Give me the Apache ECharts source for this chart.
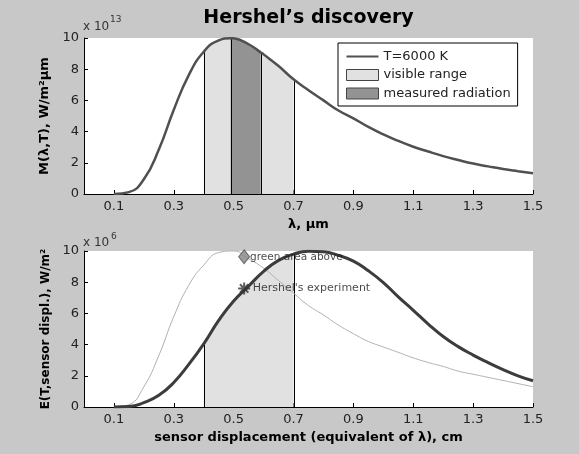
<!DOCTYPE html>
<html><head><meta charset="utf-8">
<script src="https://cdn.jsdelivr.net/npm/echarts@6/dist/echarts.min.js"></script>
<style>html,body{margin:0;padding:0;background:#c8c8c8}#c{width:579px;height:454px}</style>
</head><body><div id="c"></div>
<script>
// ---- data ----
const topX = [0.10,0.15,0.20,0.25,0.30,0.35,0.40,0.45,0.49,0.50,0.55,0.59,0.60,0.65,0.70,0.75,0.80,0.85,0.90,0.95,1.00,1.05,1.10,1.15,1.20,1.25,1.30,1.35,1.40,1.45,1.50];
const topY = [0.00,0.12,0.95,2.85,5.40,7.62,9.12,9.85,9.99,9.98,9.60,9.08,8.95,8.20,7.35,6.65,6.00,5.35,4.85,4.30,3.82,3.40,3.03,2.72,2.43,2.18,1.95,1.77,1.60,1.46,1.33];
const botX = [0.10,0.15,0.20,0.25,0.30,0.35,0.40,0.45,0.50,0.55,0.60,0.65,0.70,0.75,0.80,0.85,0.90,0.95,1.00,1.05,1.10,1.15,1.20,1.25,1.30,1.35,1.40,1.45,1.50];
const thinY = [0.00,0.15,1.30,3.30,5.80,7.80,9.10,9.90,10.0,9.50,8.90,8.10,7.30,6.50,5.90,5.25,4.70,4.20,3.85,3.50,3.15,2.85,2.60,2.30,2.10,1.90,1.70,1.50,1.30];
const thickY = [0.00,0.03,0.28,0.75,1.57,2.73,4.05,5.55,6.80,7.75,8.70,9.40,9.80,9.98,9.95,9.72,9.35,8.73,7.98,7.06,6.20,5.32,4.52,3.87,3.33,2.85,2.40,2.00,1.68];
const xTicks = [0.1,0.3,0.5,0.7,0.9,1.1,1.3,1.5];
const visibleRange = [0.4, 0.7];
const measuredRange = [0.49, 0.59];
const markerX = [0.535, 0.535];
const markerY = [9.63, 7.6];
const markerText = ['green area above', "Hershel's experiment"];
const legendNames = ['T=6000 K', 'visible range', 'measured radiation'];

// ---- helpers ----
const F = 'DejaVu Sans';
const pairs = (xs, ys) => xs.map((x, i) => [x, ys[i]]);
const subset = (xs, ys, a, b) => pairs(xs, ys).filter(p => p[0] >= a - 1e-9 && p[0] <= b + 1e-9);
const yAt = (xs, ys, x) => ys[xs.findIndex(v => Math.abs(v - x) < 1e-9)];
const SM = 0.5;

function xAxisCfg(gi, name) {
  return {
    type: 'value', gridIndex: gi, min: 0, max: 1.5,
    name: name, nameLocation: 'middle', nameGap: 24,
    nameTextStyle: { fontFamily: F, fontWeight: 'bold', fontSize: 13, color: '#000' },
    axisLine: { show: true, onZero: false, lineStyle: { color: '#000', width: 1 } },
    axisTick: { show: true, inside: true, length: 4, customValues: xTicks, lineStyle: { color: '#000' } },
    axisLabel: { customValues: xTicks, formatter: v => v.toFixed(1), margin: 6, fontFamily: F, fontSize: 13, color: '#222' },
    splitLine: { show: false }
  };
}
function yAxisCfg(gi, name, fs) {
  return {
    type: 'value', gridIndex: gi, min: 0, max: 10, interval: 2,
    name: name, nameLocation: 'middle', nameGap: 30, nameRotate: 90,
    nameTextStyle: { fontFamily: F, fontWeight: 'bold', fontSize: fs, color: '#000' },
    axisLine: { show: true, onZero: false, lineStyle: { color: '#000', width: 1 } },
    axisTick: { show: true, inside: true, length: 4, lineStyle: { color: '#000' } },
    axisLabel: { margin: 5, fontFamily: F, fontSize: 13, color: '#222' },
    splitLine: { show: false }
  };
}
function vlines(xi, xs, ys, edges) {
  return {
    type: 'custom', xAxisIndex: xi, yAxisIndex: xi, silent: true, z: 3,
    data: edges.map(x => [x, yAt(xs, ys, x)]),
    renderItem: (params, api) => {
      const p0 = api.coord([api.value(0), 0]);
      const p1 = api.coord([api.value(0), api.value(1)]);
      const px = Math.round(p0[0]) + 0.5;
      return { type: 'line', shape: { x1: px, y1: p0[1], x2: px, y2: p1[1] }, style: { stroke: '#000', lineWidth: 1 } };
    }
  };
}
function area(name, xi, data, color) {
  return {
    name: name, type: 'line', xAxisIndex: xi, yAxisIndex: xi, data: data, z: 2,
    smooth: SM, symbol: 'none',
    lineStyle: { width: 0 }, areaStyle: { color: color, opacity: 1 }
  };
}

const chart = echarts.init(document.getElementById('c'), null, { renderer: 'canvas' });
chart.setOption({
  animation: false,
  backgroundColor: '#c8c8c8',
  grid: [
    { left: 84, top: 38, width: 449, height: 156, show: true, backgroundColor: '#fff', borderWidth: 0 },
    { left: 84, top: 251, width: 449, height: 156, show: true, backgroundColor: '#fff', borderWidth: 0 }
  ],
  xAxis: [xAxisCfg(0, 'λ, μm'), xAxisCfg(1, 'sensor displacement (equivalent of λ), cm')],
  yAxis: [yAxisCfg(0, 'M(λ,T), W/m²μm', 13), yAxisCfg(1, 'E(T,sensor displ.), W/m²', 12)],
  legend: {
    orient: 'vertical', left: 338, top: 43,
    backgroundColor: '#fff', borderColor: '#000', borderWidth: 1, borderRadius: 0,
    padding: [7, 7, 6, 8], itemWidth: 32, itemHeight: 11, itemGap: 5.5,
    selectedMode: false,
    textStyle: { fontFamily: F, fontSize: 13, color: '#222', lineHeight: 11 },
    data: [
      { name: legendNames[0], icon: 'path://M0,4.5L32,4.5L32,6.5L0,6.5Z', itemStyle: { color: '#505050' } },
      { name: legendNames[1], icon: 'rect', itemStyle: { color: '#e1e1e1', borderColor: '#444', borderWidth: 1 } },
      { name: legendNames[2], icon: 'rect', itemStyle: { color: '#939393', borderColor: '#444', borderWidth: 1 } }
    ]
  },
  graphic: [
    { type: 'text', style: { x: 308.5, y: 18, text: 'Hershel’s discovery', font: 'bold 19px "DejaVu Sans"', fill: '#000', textAlign: 'center', textVerticalAlign: 'middle' } },
    { type: 'text', style: { x: 83, y: 27, text: 'x 10', font: '12px "DejaVu Sans"', fill: '#333', textAlign: 'left', textVerticalAlign: 'middle' } },
    { type: 'text', style: { x: 110, y: 20, text: '13', font: '9px "DejaVu Sans"', fill: '#333', textAlign: 'left', textVerticalAlign: 'middle' } },
    { type: 'text', style: { x: 83, y: 243, text: 'x 10', font: '12px "DejaVu Sans"', fill: '#333', textAlign: 'left', textVerticalAlign: 'middle' } },
    { type: 'text', style: { x: 111, y: 236.5, text: '6', font: '9px "DejaVu Sans"', fill: '#333', textAlign: 'left', textVerticalAlign: 'middle' } }
  ],
  series: [
    area(legendNames[1], 0, subset(topX, topY, visibleRange[0], visibleRange[1]), '#e1e1e1'),
    area(legendNames[2], 0, subset(topX, topY, measuredRange[0], measuredRange[1]), '#939393'),
    vlines(0, topX, topY, [visibleRange[0], measuredRange[0], measuredRange[1], visibleRange[1]]),
    {
      name: legendNames[0], type: 'line', xAxisIndex: 0, yAxisIndex: 0, data: pairs(topX, topY), z: 4,
      smooth: SM, symbol: 'none', lineStyle: { color: '#505050', width: 2.5 }, itemStyle: { color: '#505050' }
    },
    area('sensor range', 1, subset(botX, thickY, visibleRange[0], visibleRange[1]), '#e1e1e1'),
    vlines(1, botX, thickY, visibleRange),
    {
      name: 'spectrum', type: 'line', xAxisIndex: 1, yAxisIndex: 1, data: pairs(botX, thinY), z: 4,
      smooth: SM, symbol: 'none', lineStyle: { color: '#b0b0b0', width: 1 }
    },
    {
      name: 'sensor', type: 'line', xAxisIndex: 1, yAxisIndex: 1, data: pairs(botX, thickY), z: 4,
      smooth: SM, symbol: 'none', lineStyle: { color: '#3c3c3c', width: 3 }
    },
    {
      name: 'green', type: 'scatter', xAxisIndex: 1, yAxisIndex: 1, z: 10,
      data: [[markerX[0], markerY[0]]], symbol: 'diamond', symbolSize: [11, 14],
      itemStyle: { color: '#858585', borderColor: '#555', borderWidth: 1 },
      label: { show: true, position: 'right', distance: 0, formatter: markerText[0], fontFamily: F, fontSize: 10.5, color: '#1a1a1a' }
    },
    {
      name: 'hershel', type: 'scatter', xAxisIndex: 1, yAxisIndex: 1, z: 10,
      data: [[markerX[1], markerY[1]]],
      symbol: 'path://M5,0L5,10M0,5L10,5M1.5,1.5L8.5,8.5M8.5,1.5L1.5,8.5', symbolSize: 12,
      itemStyle: { color: 'none', borderColor: '#333', borderWidth: 2 },
      label: { show: true, position: 'right', distance: 0, formatter: markerText[1], fontFamily: F, fontSize: 11, color: '#1a1a1a' }
    }
  ]
});
</script></body></html>
